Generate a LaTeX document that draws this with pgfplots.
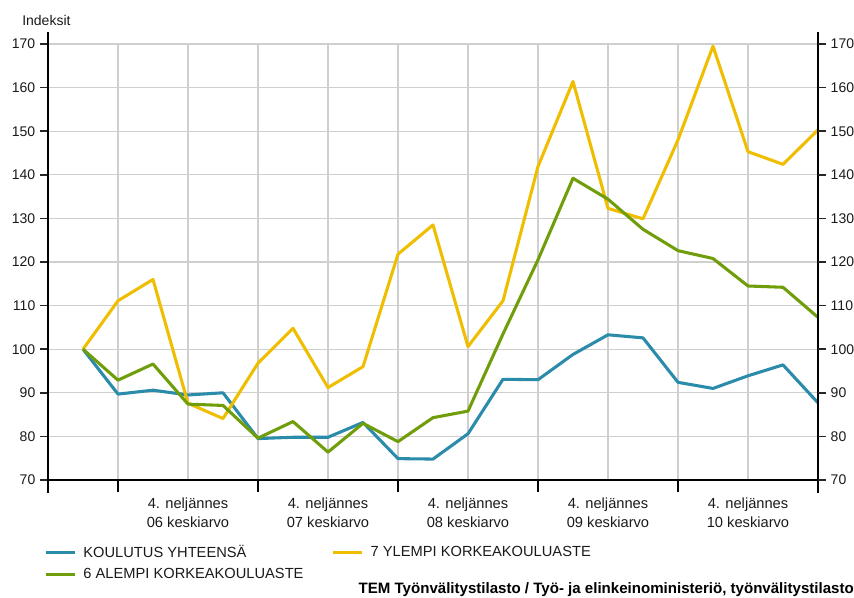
\documentclass[border=0pt]{standalone}
\usepackage{fontspec}
\setmainfont{Liberation Sans}
\usepackage{pgfplots}
\pgfplotsset{compat=1.18}
\usepackage{pgfplotstable}
\definecolor{cblue}{HTML}{2A8BAA}
\definecolor{cgreen}{HTML}{6F9E0A}
\definecolor{cyellow}{HTML}{EFBE00}
\definecolor{gridgray}{HTML}{CFCFCF}
\definecolor{txt}{HTML}{1A1A1A}

\pgfplotstableread{
k blue green yellow
0 100 100 100
1 89.7 92.9 111.1
2 90.6 96.6 116.0
3 89.5 87.4 87.6
4 90.0 87.1 84.1
5 79.5 79.6 96.8
6 79.8 83.4 104.8
7 79.8 76.4 91.2
8 83.2 83.0 96.0
9 74.9 78.8 121.8
10 74.8 84.3 128.5
11 80.6 85.8 100.6
12 93.1 103.5 111.1
13 93.0 120.5 141.9
14 98.8 139.2 161.4
15 103.3 134.4 132.3
16 102.6 127.5 129.9
17 92.4 122.6 148.0
18 91.0 120.8 169.5
19 93.9 114.5 145.3
20 96.4 114.2 142.4
21 87.7 107.3 150.3
}\data

\begin{document}
\begin{tikzpicture}[x=0.75pt,y=0.75pt]
\useasboundingbox (0,0) rectangle (854,597);
\begin{axis}[
  at={(36pt,87.75pt)}, anchor=south west,
  width=577.5pt, height=327pt, scale only axis,
  xmin=-1, xmax=21, ymin=70, ymax=170,
  axis line style={draw=none},
  clip=false,
  xtick={1,3,...,19},
  xticklabels={,{4. neljännes\\06 keskiarvo},,{4. neljännes\\07 keskiarvo},,{4. neljännes\\08 keskiarvo},,{4. neljännes\\09 keskiarvo},,{4. neljännes\\10 keskiarvo}},
  xticklabel style={align=center, font=\fontsize{11}{13.8}\selectfont, text=txt, yshift=-4pt},
  xtick pos=bottom,
  x tick style={draw=none},
  extra x ticks={1,5,9,13,17,21},
  extra x tick labels={},
  extra x tick style={grid=none, major tick length=9pt, x tick style={draw=black, line width=1.5pt}},
  ytick={70,80,...,170},
  ytick pos=left,
  tick align=outside,
  major tick length=6pt,
  y tick style={color=black!85, line width=1.1pt},
  yticklabel style={font=\fontsize{10.5}{12}\selectfont, text=txt},
  /pgf/number format/assume math mode=true,
  xmajorgrids, ymajorgrids,
  grid style={color=gridgray, line width=0.8pt},
  legend columns=2,
  legend cell align=left,
  legend style={at={(0,0)}, anchor=north west, yshift=-47pt, xshift=-3pt,
    draw=none, fill=none, font=\fontsize{11}{13}\selectfont, text=txt,
    /tikz/every odd column/.style={column sep=3pt},
    /tikz/every even column/.style={column sep=19pt},
    row sep=2.5pt, inner sep=0pt},
  legend image code/.code={\draw[line width=2.4pt] (0pt,0pt) -- (22pt,0pt);},
]
\addplot[cblue, line width=2.3pt, line join=round] table[x=k, y=blue] {\data};
\addlegendentry{KOULUTUS YHTEENSÄ}
\addplot[cyellow, line width=2.3pt, line join=round] table[x=k, y=yellow] {\data};
\addlegendentry{7 YLEMPI KORKEAKOULUASTE}
\addplot[cgreen, line width=2.3pt, line join=round] table[x=k, y=green] {\data};
\addlegendentry{6 ALEMPI KORKEAKOULUASTE}
\draw[black, line width=2.2pt] (axis cs:-1,67) -- (axis cs:-1,172.75);
\draw[black, line width=2.2pt] (axis cs:21,67) -- (axis cs:21,172.75);
\draw[black, line width=2.2pt] (axis cs:-1,70) -- (axis cs:21,70);
\end{axis}
\begin{axis}[
  at={(36pt,87.75pt)}, anchor=south west,
  width=577.5pt, height=327pt, scale only axis,
  xmin=-1, xmax=21, ymin=70, ymax=170,
  axis line style={draw=none},
  xtick=\empty,
  ytick={70,80,...,170},
  ytick pos=right,
  yticklabel pos=right,
  tick align=outside,
  major tick length=6pt,
  y tick style={color=black!85, line width=1.1pt},
  yticklabel style={font=\fontsize{10.5}{12}\selectfont, text=txt},
  /pgf/number format/assume math mode=true,
]
\end{axis}
\node[anchor=west, font=\fontsize{10.5}{12}\selectfont, text=txt, inner sep=0pt] at (22,576) {Indeksit};
\node[anchor=east, font=\fontsize{11.3}{13}\selectfont\bfseries, text=black, inner sep=0pt] at (854,7) {TEM Työnvälitystilasto / Työ- ja elinkeinoministeriö, työnvälitystilasto};
\end{tikzpicture}
\end{document}
